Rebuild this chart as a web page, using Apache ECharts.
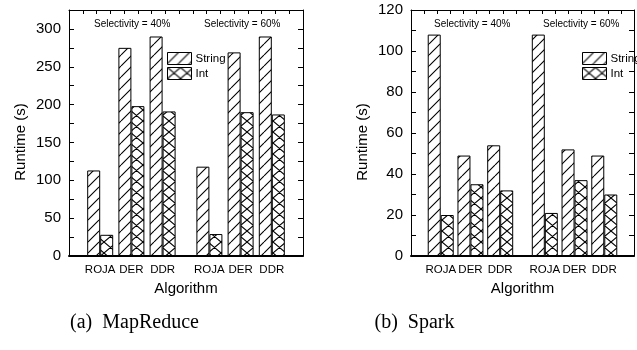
<!DOCTYPE html>
<html>
<head>
<meta charset="utf-8">
<title>Runtime by algorithm</title>
<script src="https://cdn.jsdelivr.net/npm/echarts@6/dist/echarts.min.js"></script>
<style>
  body { margin: 0; background: #fff; }
  #chart { width: 637px; height: 350px; }
</style>
</head>
<body>
<div id="chart"></div>
<script>
// values
var categories = ['ROJA', 'DER', 'DDR'];
var mrString40 = [113, 275, 290];
var mrInt40    = [28, 198, 191];
var mrString60 = [118, 269, 290];
var mrInt60    = [29, 190, 187];
var spString40 = [108, 49, 54];
var spInt40    = [20, 35, 32];
var spString60 = [108, 52, 49];
var spInt60    = [21, 37, 30];
var mrTicks = [0, 50, 100, 150, 200, 250, 300];
var spTicks = [0, 20, 40, 60, 80, 100, 120];

// the x axis is cut into 16 slots, groups sit on these ones (gap between 40% and 60%)
var SLOTS = 16;
var slot40 = [2, 4, 6];
var slot60 = [9, 11, 13];

function slotLabels() {
  var out = [];
  for (var i = 0; i < SLOTS; i++) out.push('');
  for (var k = 0; k < categories.length; k++) {
    out[slot40[k]] = categories[k];
    out[slot60[k]] = categories[k];
  }
  return out;
}
function toSlots(a40, a60) {
  var out = [];
  for (var i = 0; i < SLOTS; i++) out.push(null);
  for (var k = 0; k < a40.length; k++) {
    out[slot40[k]] = a40[k];
    out[slot60[k]] = a60[k];
  }
  return out;
}

// hatch fills
function hatch(kind) {
  var w = kind == 'x' ? 13 : 11, h = 11;
  var c = document.createElement('canvas');
  c.width = w; c.height = h;
  var g = c.getContext('2d');
  g.fillStyle = '#fff';
  g.fillRect(0, 0, w, h);
  g.strokeStyle = '#000';
  g.lineWidth = 1.1;
  g.beginPath();
  for (var d = -1; d <= 1; d++) {
    g.moveTo(d * w, h); g.lineTo(d * w + w, 0);
    if (kind == 'x') { g.moveTo(d * w, 0); g.lineTo(d * w + w, h); }
  }
  g.stroke();
  return { image: c, repeat: 'repeat' };
}
var stringFill = hatch('/');
var intFill = hatch('x');

var FONT = '"Liberation Sans", Arial, sans-serif';
var labels = slotLabels();

function xAxes(gi) {
  return [{
    gridIndex: gi, type: 'category', data: labels, boundaryGap: false,
    axisLine: { onZero: false, lineStyle: { color: '#000', width: 2 } },
    axisTick: { show: false },
    axisLabel: { interval: 0, color: '#000', fontSize: 11.5, fontFamily: FONT, margin: 8 },
    name: 'Algorithm', nameLocation: 'middle', nameGap: 23,
    nameTextStyle: { color: '#000', fontSize: 15, fontFamily: FONT }
  }, {
    gridIndex: gi, type: 'value', position: 'top', min: 0, max: 17, interval: 1,
    axisLine: { show: true, onZero: false, lineStyle: { color: '#000', width: 1 } },
    axisTick: { inside: true, length: 4, lineStyle: { color: '#000' } },
    axisLabel: { show: false }, splitLine: { show: false }
  }];
}
function yAxes(gi, max, step, ticks) {
  var common = {
    gridIndex: gi, type: 'value', min: 0, max: max, interval: step,
    splitLine: { show: false },
    minorTick: { show: true, splitNumber: 2, length: 5, lineStyle: { color: '#000' } },
    axisTick: { inside: true, length: 5, lineStyle: { color: '#000' } },
    axisLine: { show: true, onZero: false, lineStyle: { color: '#000', width: 1 } }
  };
  var left = Object.assign({}, common, {
    position: 'left',
    axisLabel: {
      color: '#000', fontSize: 15, fontFamily: FONT, margin: 8,
      formatter: function (v) { return ticks.indexOf(v) >= 0 ? String(v) : ''; }
    },
    name: 'Runtime (s)', nameLocation: 'middle', nameGap: 41, nameRotate: 90,
    nameTextStyle: { color: '#000', fontSize: 15, fontFamily: FONT, padding: [0, 18, 0, 0] }
  });
  var right = Object.assign({}, common, { position: 'right', axisLabel: { show: false } });
  return [left, right];
}
function bars(gi, sName, sData, iName, iData) {
  var base = { type: 'bar', xAxisIndex: gi * 2, yAxisIndex: gi * 2, barWidth: 13, barGap: '0%', silent: true };
  return [
    Object.assign({}, base, { name: sName, data: sData, itemStyle: { color: stringFill, borderColor: '#000', borderWidth: 1 } }),
    Object.assign({}, base, { name: iName, data: iData, itemStyle: { color: intFill, borderColor: '#000', borderWidth: 1 } })
  ];
}
function legendAt(x) {
  return {
    left: x, top: 52, orient: 'vertical', padding: 0, itemGap: 2, itemWidth: 24, itemHeight: 12,
    icon: 'rect', selectedMode: false, data: ['String', 'Int'],
    itemStyle: { borderColor: '#000', borderWidth: 1 },
    textStyle: { color: '#000', fontSize: 11.5, fontFamily: FONT, padding: [0, 0, 0, -1] }
  };
}
function txt(x, y, s, size, fam) {
  return { type: 'text', x: x, y: y, silent: true,
    style: { text: s, fontSize: size, fontFamily: fam, fill: '#000', align: 'left', verticalAlign: 'middle' } };
}
function ctxt(x, y, s, size, fam) {
  var t = txt(x, y, s, size, fam);
  t.style.align = 'center';
  return t;
}

var chart = echarts.init(document.getElementById('chart'));
chart.setOption({
  animation: false,
  grid: [
    { left: 69, top: 10, width: 234, height: 246 },
    { left: 411, top: 10, width: 234, height: 246 }
  ],
  legend: [legendAt(167), legendAt(582)],
  xAxis: xAxes(0).concat(xAxes(1)),
  yAxis: yAxes(0, 325, 50, mrTicks).concat(yAxes(1, 120, 20, spTicks)),
  series: bars(0, 'String', toSlots(mrString40, mrString60), 'Int', toSlots(mrInt40, mrInt60))
    .concat(bars(1, 'String', toSlots(spString40, spString60), 'Int', toSlots(spInt40, spInt60))),
  graphic: [
    txt(94, 24, 'Selectivity = 40%', 10, FONT),
    txt(204, 24, 'Selectivity = 60%', 10, FONT),
    txt(434, 24, 'Selectivity = 40%', 10, FONT),
    txt(543, 24, 'Selectivity = 60%', 10, FONT),
    ctxt(134.5, 323, '(a)  MapReduce', 20, '"Liberation Serif", serif'),
    ctxt(414.5, 323, '(b)  Spark', 20, '"Liberation Serif", serif')
  ]
});
</script>
</body>
</html>
